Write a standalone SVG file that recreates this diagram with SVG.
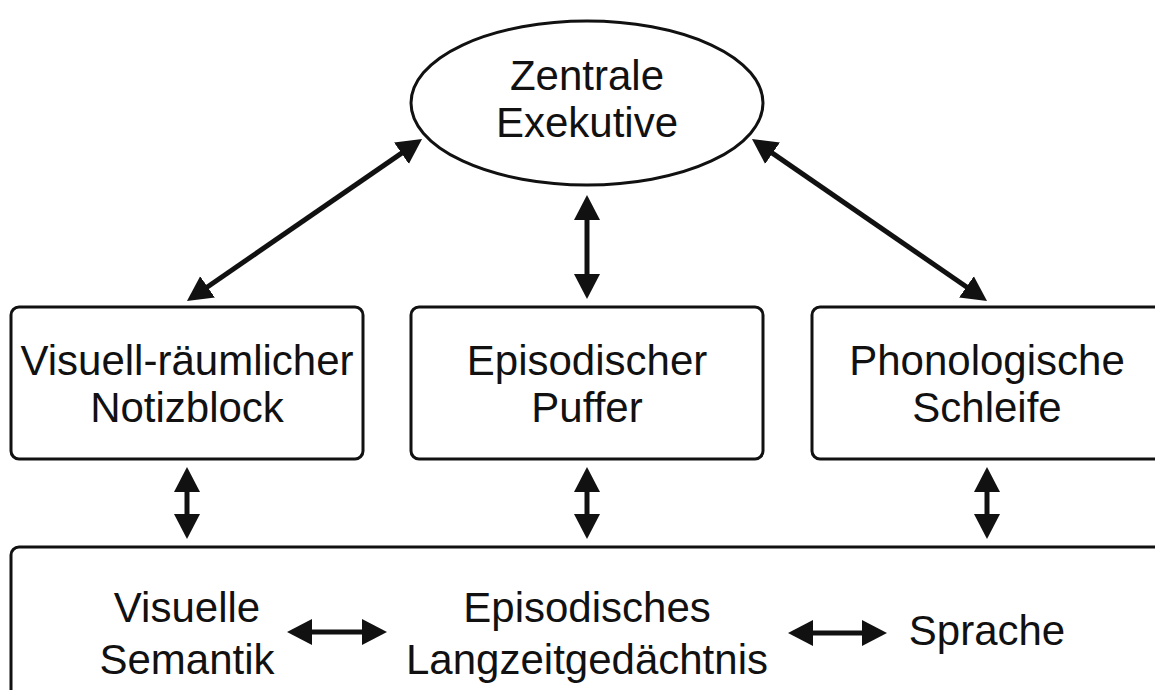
<svg xmlns="http://www.w3.org/2000/svg" width="1155" height="690" viewBox="0 0 1155 690">
<style>
.box{fill:#fff;stroke:#111;stroke-width:3}
.t{font-family:"Liberation Sans",Arial,sans-serif;font-size:42px;fill:#111;text-anchor:middle}
.a{fill:none;stroke:#111;stroke-width:5;marker-start:url(#ah);marker-end:url(#ah)}
</style>
<defs>
<marker id="ah" markerUnits="userSpaceOnUse" markerWidth="26" markerHeight="27" refX="2" refY="13" orient="auto-start-reverse" viewBox="0 0 26 26">
<path d="M0,0 L25,13 L0,26 z" fill="#111"/>
</marker>
</defs>
<rect width="1155" height="690" fill="#fff"/>
<g id="zentrale">
<ellipse class="box" cx="587" cy="103" rx="176" ry="82"/>
<text class="t" x="587" y="90">Zentrale</text>
<text class="t" x="587" y="137">Exekutive</text>
</g>
<g id="notizblock">
<rect class="box" x="11" y="307" width="352" height="152" rx="8"/>
<text class="t" x="187" y="375">Visuell-räumlicher</text>
<text class="t" x="187" y="422">Notizblock</text>
</g>
<g id="puffer">
<rect class="box" x="411" y="307" width="352" height="152" rx="8"/>
<text class="t" x="587" y="375">Episodischer</text>
<text class="t" x="587" y="422">Puffer</text>
</g>
<g id="schleife">
<rect class="box" x="812" y="307" width="360" height="152" rx="8"/>
<text class="t" x="987" y="375">Phonologische</text>
<text class="t" x="987" y="422">Schleife</text>
</g>
<g id="langzeit">
<rect class="box" x="11" y="547" width="1170" height="160" rx="8"/>
</g>
<g id="semantik">
<text class="t" x="187" y="622">Visuelle</text>
<text class="t" x="187" y="674">Semantik</text>
</g>
<g id="episodisch">
<text class="t" x="587" y="622">Episodisches</text>
<text class="t" x="587" y="674">Langzeitgedächtnis</text>
</g>
<g id="sprache">
<text class="t" x="987" y="645">Sprache</text>
</g>
<g id="connectors">
<path class="a" d="M403.1,152.1 L205.9,288"/>
<path class="a" d="M770.9,152.1 L968.1,288"/>
<path class="a" d="M587,218 L587,276"/>
<path class="a" d="M187,490 L187,516"/>
<path class="a" d="M587,490 L587,516"/>
<path class="a" d="M987,490 L987,516"/>
<path class="a" d="M310,632 L364,632"/>
<path class="a" d="M811,633 L864,633"/>
</g>
</svg>
